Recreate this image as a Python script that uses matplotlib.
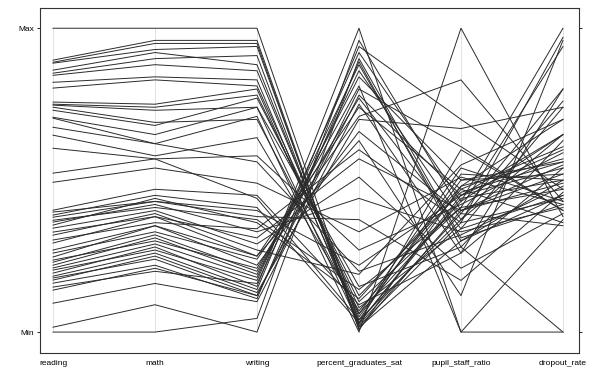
import numpy as np
import matplotlib.pyplot as plt

plt.rcParams['font.family'] = ['Liberation Sans', 'DejaVu Sans']

columns = ["reading", "math", "writing", "percent_graduates_sat",
           "pupil_staff_ratio", "dropout_rate"]

# values, in percent of each axis' range
reading = [100, 89.5, 88.8, 88.5, 86.2, 85.2, 84.5, 82.2, 80.3, 75.7,
           75, 74.7, 74, 73, 70.7, 70.4, 67.4, 64.8, 60.5, 52.3,
           49.3, 40.1, 39.5, 38.5, 37.8, 36.8, 36.2, 35.2, 34.2, 32.9,
           31.9, 30.3, 29.3, 27, 26, 24.7, 23.7, 23, 22, 21.1,
           20.4, 19.4, 18.4, 17.8, 17.1, 16.1, 14.8, 13.8, 9.5, 1.6, 0]
math = [100, 96, 95, 93, 92, 90, 88, 84, 83, 75,
        74, 73, 69, 68, 65, 62, 62, 58, 57, 57,
        54, 47, 43, 45, 43, 41, 42, 44, 40, 38,
        39, 36, 38, 35, 33, 35, 30, 32, 31, 29,
        27, 28, 26, 24, 25, 22, 20, 21, 16, 9, 0]
writing = [100, 96, 95, 94, 88, 91, 86, 83, 81, 80,
           78, 74, 70, 77, 74, 71, 56, 64, 58, 44,
           49, 45, 40, 41, 38, 37, 33, 36, 29, 31,
           27, 34, 25, 22, 24, 25, 21, 20, 19, 18,
           17, 15, 14, 12, 13, 11, 16, 12, 10, 0, 4.5]
percent_graduates_sat = [3, 1, 0.7, 2, 4, 1.6, 6, 3, 8, 5,
                         10, 2.5, 6, 12, 15, 0, 20, 7, 27, 4,
                         33, 9, 22, 3, 37, 14, 44, 11, 51, 57,
                         19, 60, 63, 66, 71, 74, 77, 81, 84, 88,
                         92, 100, 94, 80, 70, 89, 86, 78, 75, 90, 96]
pupil_staff_ratio = [45, 40, 48, 36, 52, 30, 43, 60, 34, 50,
                     41, 39, 54, 46, 28, 100, 32, 47, 42, 37,
                     51, 26, 45, 44, 17, 41, 33, 48, 21, 40,
                     55, 36, 12, 39, 83, 47, 34, 0, 50, 30,
                     43, 0, 70, 61, 67, 28, 37, 45, 26, 31, 40]
dropout_rate = [60, 55, 70, 97, 50, 45, 65, 40, 74, 52,
                47, 80, 43, 56, 63, 38, 48, 36, 59, 76,
                42, 54, 65, 50, 46, 94, 41, 57, 39, 52,
                70, 44, 96, 35, 43, 61, 45, 0, 56, 50,
                100, 37, 47, 40, 74, 0, 65, 54, 80, 42, 49]

data = np.array([reading, math, writing, percent_graduates_sat,
                 pupil_staff_ratio, dropout_rate], dtype=float).T
scaled = (data - data.min(axis=0)) / (data.max(axis=0) - data.min(axis=0))
x = np.arange(1, len(columns) + 1)

fig = plt.figure(figsize=(5.89, 3.72), dpi=100)
ax = fig.add_axes([0.068, 0.051, 0.915, 0.927])

for i in x:
    ax.plot([i, i], [0, 1], color="#dddddd", linewidth=0.6, zorder=1)
for row in scaled:
    ax.plot(x, row, color="#2b2b2b", linewidth=0.7, zorder=2)

ax.set_xlim(0.873, 6.157)
ax.set_ylim(-0.069, 1.066)
ax.set_xticks(x)
ax.set_xticklabels(columns, fontsize=6)
ax.set_yticks([0, 1])
ax.set_yticklabels(["Min", "Max"], fontsize=6)
ax.tick_params(axis="x", length=0, pad=5)
ax.tick_params(axis="y", length=2.5, width=0.6, right=True, pad=2)
for s in ax.spines.values():
    s.set_linewidth(0.8)
    s.set_color("#333333")

fig.savefig("out.png", dpi=100)
